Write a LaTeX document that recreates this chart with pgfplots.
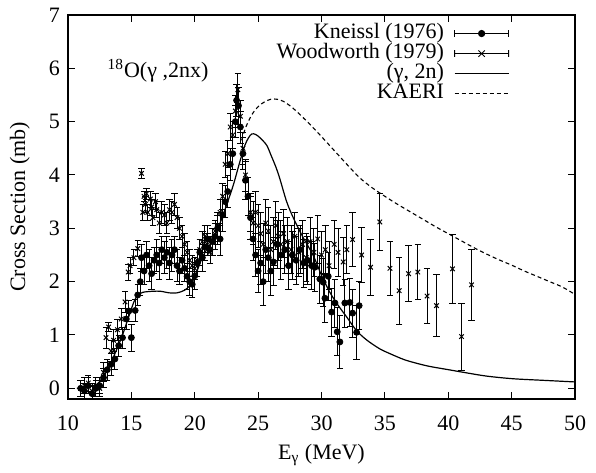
\documentclass[border=0pt]{standalone}
\usepackage{pgfplots}
\pgfplotsset{compat=1.18}
\usepackage{pgfplotstable}
\usepackage{fontspec}
\setmainfont{Liberation Serif}

\pgfplotstableread{
x y e
11.0 0.00 0.15
11.3 -0.05 0.15
11.6 0.05 0.15
11.9 -0.10 0.15
12.2 0.00 0.15
12.5 0.05 0.15
12.8 0.20 0.18
13.1 0.35 0.2
13.4 0.45 0.2
13.7 0.55 0.2
14.0 0.80 0.2
14.3 0.95 0.2
14.6 1.30 0.2
14.8 1.45 0.2
15.0 0.95 0.25
15.3 1.46 0.2
15.5 1.75 0.2
15.7 2.00 0.25
15.8 2.45 0.25
16.0 2.20 0.25
16.2 2.50 0.25
16.4 2.30 0.3
16.6 2.15 0.3
16.8 2.40 0.25
17.0 2.50 0.3
17.2 2.35 0.3
17.4 2.60 0.25
17.6 2.45 0.3
17.8 2.55 0.3
18.0 2.35 0.3
18.2 2.50 0.3
18.4 2.60 0.25
18.6 2.30 0.3
18.8 2.20 0.25
19.0 2.40 0.25
19.2 2.25 0.25
19.4 2.10 0.25
19.6 2.00 0.25
19.8 1.95 0.25
20.0 2.11 0.25
20.2 2.35 0.25
20.4 2.55 0.25
20.6 2.45 0.25
20.8 2.65 0.25
21.0 2.80 0.25
21.2 2.60 0.25
21.4 2.75 0.25
21.6 2.85 0.25
21.8 3.00 0.3
22.0 2.80 0.3
22.2 3.25 0.3
22.4 3.50 0.3
22.6 3.69 0.3
22.8 4.20 0.3
23.0 4.40 0.3
23.2 5.00 0.3
23.3 5.40 0.3
23.45 5.30 0.35
23.6 4.90 0.3
23.8 4.40 0.3
24.0 3.90 0.35
24.2 3.60 0.35
24.4 3.20 0.4
24.6 2.80 0.4
24.8 2.50 0.4
25.0 2.20 0.4
25.2 2.35 0.4
25.4 2.00 0.45
25.6 2.60 0.45
25.8 2.45 0.45
26.0 2.20 0.45
26.2 2.37 0.45
26.5 2.70 0.45
26.8 2.50 0.45
27.1 2.60 0.45
27.4 2.30 0.45
27.7 2.50 0.45
28.0 2.40 0.45
28.3 2.60 0.45
28.6 2.35 0.45
28.9 2.40 0.45
29.22 2.30 0.45
29.48 2.27 0.45
29.87 2.05 0.45
30.13 1.99 0.45
30.27 1.69 0.45
30.53 2.10 0.45
30.8 1.43 0.45
31.06 1.60 0.45
31.24 1.06 0.45
31.45 0.87 0.5
31.84 1.60 0.45
32.24 1.61 0.45
32.45 1.41 0.45
32.77 1.05 0.5
32.97 1.55 0.45
}\kneissl

\pgfplotstableread{
x y e
11.3 0.05 0.15
11.6 0.10 0.15
11.9 -0.05 0.15
12.2 0.05 0.15
12.5 0.00 0.15
12.8 0.30 0.18
13.0 0.95 0.2
13.2 1.15 0.08
13.4 0.70 0.2
13.6 0.90 0.2
13.9 1.10 0.2
14.2 1.30 0.2
14.5 1.62 0.2
14.75 2.18 0.15
14.9 2.30 0.15
15.2 2.45 0.15
15.5 2.62 0.15
15.8 4.03 0.1
15.9 3.30 0.15
16.0 3.60 0.1
16.1 3.45 0.15
16.2 3.65 0.1
16.3 3.30 0.15
16.5 3.55 0.15
16.6 3.40 0.15
16.7 3.20 0.15
16.9 3.50 0.15
17.0 3.35 0.15
17.2 3.10 0.2
17.4 3.30 0.2
17.6 3.25 0.2
17.8 3.10 0.2
18.0 3.35 0.2
18.2 3.30 0.2
18.4 3.45 0.2
18.6 3.20 0.2
18.8 3.00 0.2
19.0 2.85 0.2
19.2 2.70 0.2
19.4 2.55 0.2
19.6 2.40 0.2
19.8 2.30 0.2
20.0 2.25 0.2
20.2 2.40 0.2
20.4 2.60 0.2
20.6 2.75 0.2
20.8 2.85 0.2
21.0 2.70 0.2
21.2 2.55 0.2
21.4 2.80 0.2
21.6 2.95 0.2
21.8 3.05 0.2
22.0 3.30 0.25
22.2 3.60 0.25
22.4 4.20 0.25
22.6 4.40 0.25
22.8 4.90 0.25
23.0 4.75 0.25
23.2 5.20 0.3
23.4 5.60 0.3
23.6 5.10 0.3
23.8 4.50 0.3
24.0 4.00 0.3
24.2 3.60 0.35
24.4 3.30 0.35
24.6 3.10 0.4
24.8 3.30 0.4
25.0 3.05 0.4
25.2 2.90 0.4
25.4 2.70 0.4
25.6 3.10 0.45
25.8 2.95 0.45
26.0 2.60 0.45
26.2 2.75 0.45
26.4 3.05 0.45
26.6 2.85 0.45
26.8 2.70 0.45
27.0 2.90 0.45
27.3 2.75 0.45
27.6 2.60 0.45
27.9 2.85 0.45
28.2 2.55 0.45
28.5 2.70 0.45
28.8 2.45 0.45
29.1 2.75 0.45
29.4 2.55 0.45
29.7 2.80 0.45
30.0 2.50 0.45
30.3 2.60 0.45
30.6 2.30 0.45
31.0 2.70 0.45
31.3 2.55 0.45
31.71 2.37 0.45
32.0 2.60 0.45
32.45 2.79 0.5
33.16 2.50 0.52
33.87 2.27 0.52
34.6 3.12 0.53
35.4 2.25 0.5
36.13 1.83 0.63
36.87 2.15 0.52
37.6 2.18 0.52
38.33 1.73 0.51
39.07 1.55 0.58
40.33 2.24 0.64
41.05 0.97 0.63
41.84 1.94 0.67
}\woodworth

\pgfplotstableread{
x y
10.7 0.00
11.5 0.02
12.3 0.08
13.0 0.30
13.7 0.65
14.3 1.00
14.8 1.35
15.2 1.62
15.5 1.74
15.9 1.80
16.7 1.82
17.3 1.82
18.0 1.79
18.6 1.79
19.2 1.84
19.7 1.95
20.1 2.15
20.67 2.49
21.46 2.80
22.0 3.10
22.5 3.43
23.04 3.81
23.56 4.25
23.96 4.56
24.25 4.70
24.5 4.77
24.8 4.76
25.14 4.70
25.67 4.56
26.0 4.38
26.4 4.15
26.7 3.94
27.25 3.50
27.77 3.20
28.5 2.85
29.35 2.49
30.0 2.12
30.66 1.80
31.3 1.56
31.98 1.34
32.77 1.08
33.6 0.90
34.6 0.74
35.4 0.65
36.5 0.54
37.5 0.47
38.55 0.41
40.0 0.35
41.2 0.30
43.0 0.23
45.1 0.18
47.5 0.15
50.0 0.12
}\gtwon

\pgfplotstableread{
x y
23.7 4.65
24.0 4.88
24.5 5.13
25.0 5.28
25.5 5.37
26.0 5.42
26.5 5.42
27.0 5.38
27.5 5.30
28.0 5.20
29.0 4.97
30.0 4.72
31.0 4.46
32.0 4.20
33.0 3.95
34.0 3.76
35.0 3.60
36.0 3.45
37.0 3.31
38.0 3.17
39.0 3.03
40.0 2.90
41.0 2.77
42.0 2.64
43.0 2.52
44.0 2.41
45.0 2.31
46.0 2.20
47.0 2.10
48.0 2.00
49.0 1.90
50.0 1.76
}\kaeri

\begin{document}
\begin{tikzpicture}[font=\fontsize{11}{13}\selectfont]
\begin{axis}[
  name=ax,
  scale only axis,
  width=253.5pt, height=192pt,
  xmin=10, xmax=50, ymin=-0.2, ymax=7,
  xtick={10,15,...,50},
  ytick={0,1,...,7},
  tick align=inside,
  major tick length=3.5pt,
  minor tick num=0,
  axis line style={line width=0.6pt},
  tick style={line width=0.5pt, black},
  /pgf/number format/assume math mode=true,
  xticklabel style={yshift=-5pt},
  yticklabel style={xshift=-0.5pt},
  xlabel={E\textsubscript{γ} (MeV)},
  ylabel={Cross Section (mb)},
  xlabel style={at={(axis description cs:0.5,-0.146)}, anchor=center},
  ylabel style={at={(axis description cs:-0.095,0.5)}, anchor=center},
  legend plot pos=right,
  legend cell align=right,
  legend style={at={(axis description cs:0.875,0.984)}, anchor=north east,
    draw=none, fill=none, row sep=0pt, inner sep=1pt,
    nodes={inner sep=0pt, text height=7.5pt, text depth=2.5pt},
    column sep=5pt},
  legend image code/.code={
    \path[draw=none, fill=none] (0pt,-2pt) rectangle (27pt,2pt);
    \draw[#1] (0pt,0pt) -- (27pt,0pt);
  },
]
\addplot[black, only marks, mark=*, mark size=1.5pt, line width=0.4pt,
  legend image code/.code={
    \path[draw=none, fill=none] (0pt,-2pt) rectangle (27pt,2pt);
    \draw[black, line width=0.45pt] (0pt,0pt) -- (27pt,0pt)
      (0pt,-1.7pt) -- (0pt,1.7pt) (27pt,-1.7pt) -- (27pt,1.7pt);
    \fill[black] (13.5pt,0pt) circle (1.6pt);
  },
  error bars/.cd, y dir=both, y explicit,
  error bar style={line width=0.45pt, black},
  error mark options={rotate=90, mark size=1.6pt, line width=0.45pt, black}]
  table[x=x, y=y, y error=e] {\kneissl};
\addlegendentry{Kneissl (1976)}
\addplot[black, only marks, mark=x, mark size=1.6pt, line width=0.5pt,
  legend image code/.code={
    \path[draw=none, fill=none] (0pt,-2pt) rectangle (27pt,2pt);
    \draw[black, line width=0.45pt] (0pt,0pt) -- (27pt,0pt)
      (0pt,-1.7pt) -- (0pt,1.7pt) (27pt,-1.7pt) -- (27pt,1.7pt)
      (11.9pt,-1.6pt) -- (15.1pt,1.6pt) (11.9pt,1.6pt) -- (15.1pt,-1.6pt);
  },
  error bars/.cd, y dir=both, y explicit,
  error bar style={line width=0.45pt, black},
  error mark options={rotate=90, mark size=1.6pt, line width=0.45pt, black}]
  table[x=x, y=y, y error=e] {\woodworth};
\addlegendentry{Woodworth (1979)}
\addplot[black, line width=0.6pt, smooth, no markers] table[x=x, y=y] {\gtwon};
\addlegendentry{(γ, 2n)}
\addplot[black, line width=0.55pt, dash pattern=on 2pt off 1.5pt, smooth, no markers] table[x=x, y=y] {\kaeri};
\addlegendentry{KAERI}
\node[anchor=west, inner sep=0pt] at (axis cs:13.1,5.95) {\textsuperscript{18}O(γ ,2nx)};
\end{axis}
\pgfresetboundingbox
\path[use as bounding box] ([shift={(-34pt,-37pt)}]ax.south west) rectangle ([shift={(10.5pt,7.5pt)}]ax.north east);
\end{tikzpicture}
\end{document}
